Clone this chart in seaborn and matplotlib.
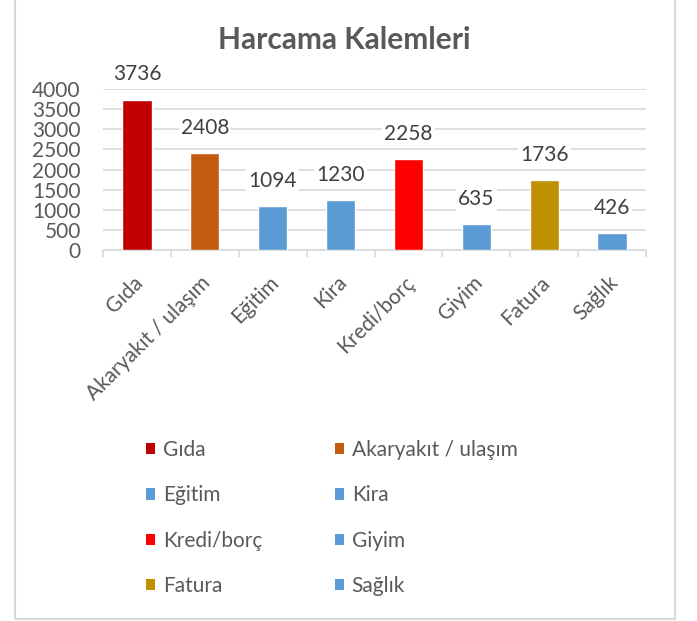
import matplotlib
matplotlib.use("Agg")
import matplotlib.pyplot as plt
import matplotlib.transforms as mtrans
import seaborn as sns
import pandas as pd
from matplotlib.patches import Rectangle, Patch

categories = ["Gıda", "Akaryakıt / ulaşım", "Eğitim", "Kira", "Kredi/borç", "Giyim", "Fatura", "Sağlık"]
values = [3736, 2408, 1094, 1230, 2258, 635, 1736, 426]
colors = ["#C00000", "#C55A11", "#5B9BD5", "#5B9BD5", "#FF0000", "#5B9BD5", "#BF9000", "#5B9BD5"]
yticks = [0, 500, 1000, 1500, 2000, 2500, 3000, 3500, 4000]
title = "Harcama Kalemleri"

sns.set_theme(style="white")
plt.rcParams["font.family"] = ["Lato", "DejaVu Sans"]

TXT = "#595959"
GRID = "#D9D9D9"

fig = plt.figure(figsize=(6.97, 6.21), dpi=100)
ax = fig.add_axes([103 / 697, 1 - 250 / 621, (646 - 103) / 697, (250 - 89) / 621])

df = pd.DataFrame({"cat": categories, "val": values})
sns.barplot(data=df, x="cat", y="val", hue="cat", palette=colors, dodge=False,
            width=0.43, legend=False, ax=ax, zorder=3, saturation=1)

ax.set_ylim(0, 4000)
ax.set_xlim(-0.5, len(categories) - 0.5)
ax.set_yticks(yticks)
ax.set_yticklabels([str(v) for v in yticks], fontsize=15, color=TXT)
ax.yaxis.grid(True, color=GRID, lw=1.2, zorder=0)
ax.set_axisbelow(True)
ax.set_xlabel("")
ax.set_ylabel("")
for s in ["top", "right", "left"]:
    ax.spines[s].set_visible(False)
ax.spines["bottom"].set_color(GRID)
ax.spines["bottom"].set_linewidth(1.2)
ax.tick_params(axis="y", length=0, pad=16)
ax.set_xticks(range(len(categories)))
ax.set_xticklabels(categories, rotation=45, ha="right", va="top",
                   rotation_mode="anchor", fontsize=15, color=TXT)
ax.tick_params(axis="x", which="major", length=0, pad=16)
shift = mtrans.ScaledTranslation(-3 / 72, 0, fig.dpi_scale_trans)
for lab in ax.get_xticklabels():
    lab.set_transform(lab.get_transform() + shift)
ax.set_xticks([i - 0.5 for i in range(len(categories) + 1)], minor=True)
ax.tick_params(axis="x", which="minor", length=5, width=1.2, color=GRID, bottom=True)

for cont, v in zip(ax.containers, values):
    ax.bar_label(cont, labels=[str(v)], padding=11, fontsize=15, color="#404040",
                 bbox=dict(facecolor="white", edgecolor="none", pad=1.5), zorder=4)

fig.text(0.494, 1 - 40 / 621, title, ha="center", va="center", fontsize=21.5,
         fontweight="bold", color=TXT)

handles = [Patch(facecolor=c, edgecolor="none") for c in colors]
for col, x0 in [(0, 146 / 697), (1, 335 / 697)]:
    idx = list(range(col, len(categories), 2))
    leg = fig.legend([handles[i] for i in idx], [categories[i] for i in idx],
                     loc="upper left", bbox_to_anchor=(x0, 1 - 440 / 621),
                     frameon=False, fontsize=15, handlelength=0.45, handleheight=0.45,
                     handletextpad=0.35, labelspacing=1.22, borderpad=0, borderaxespad=0)
    for t in leg.get_texts():
        t.set_color(TXT)

fig.patches.append(Rectangle((15 / 697, 1 - 619 / 621), 660 / 697, 0.1 + 619 / 621,
                             transform=fig.transFigure, fill=False, edgecolor=GRID, lw=1.5))

fig.savefig("out.png", dpi=100)
